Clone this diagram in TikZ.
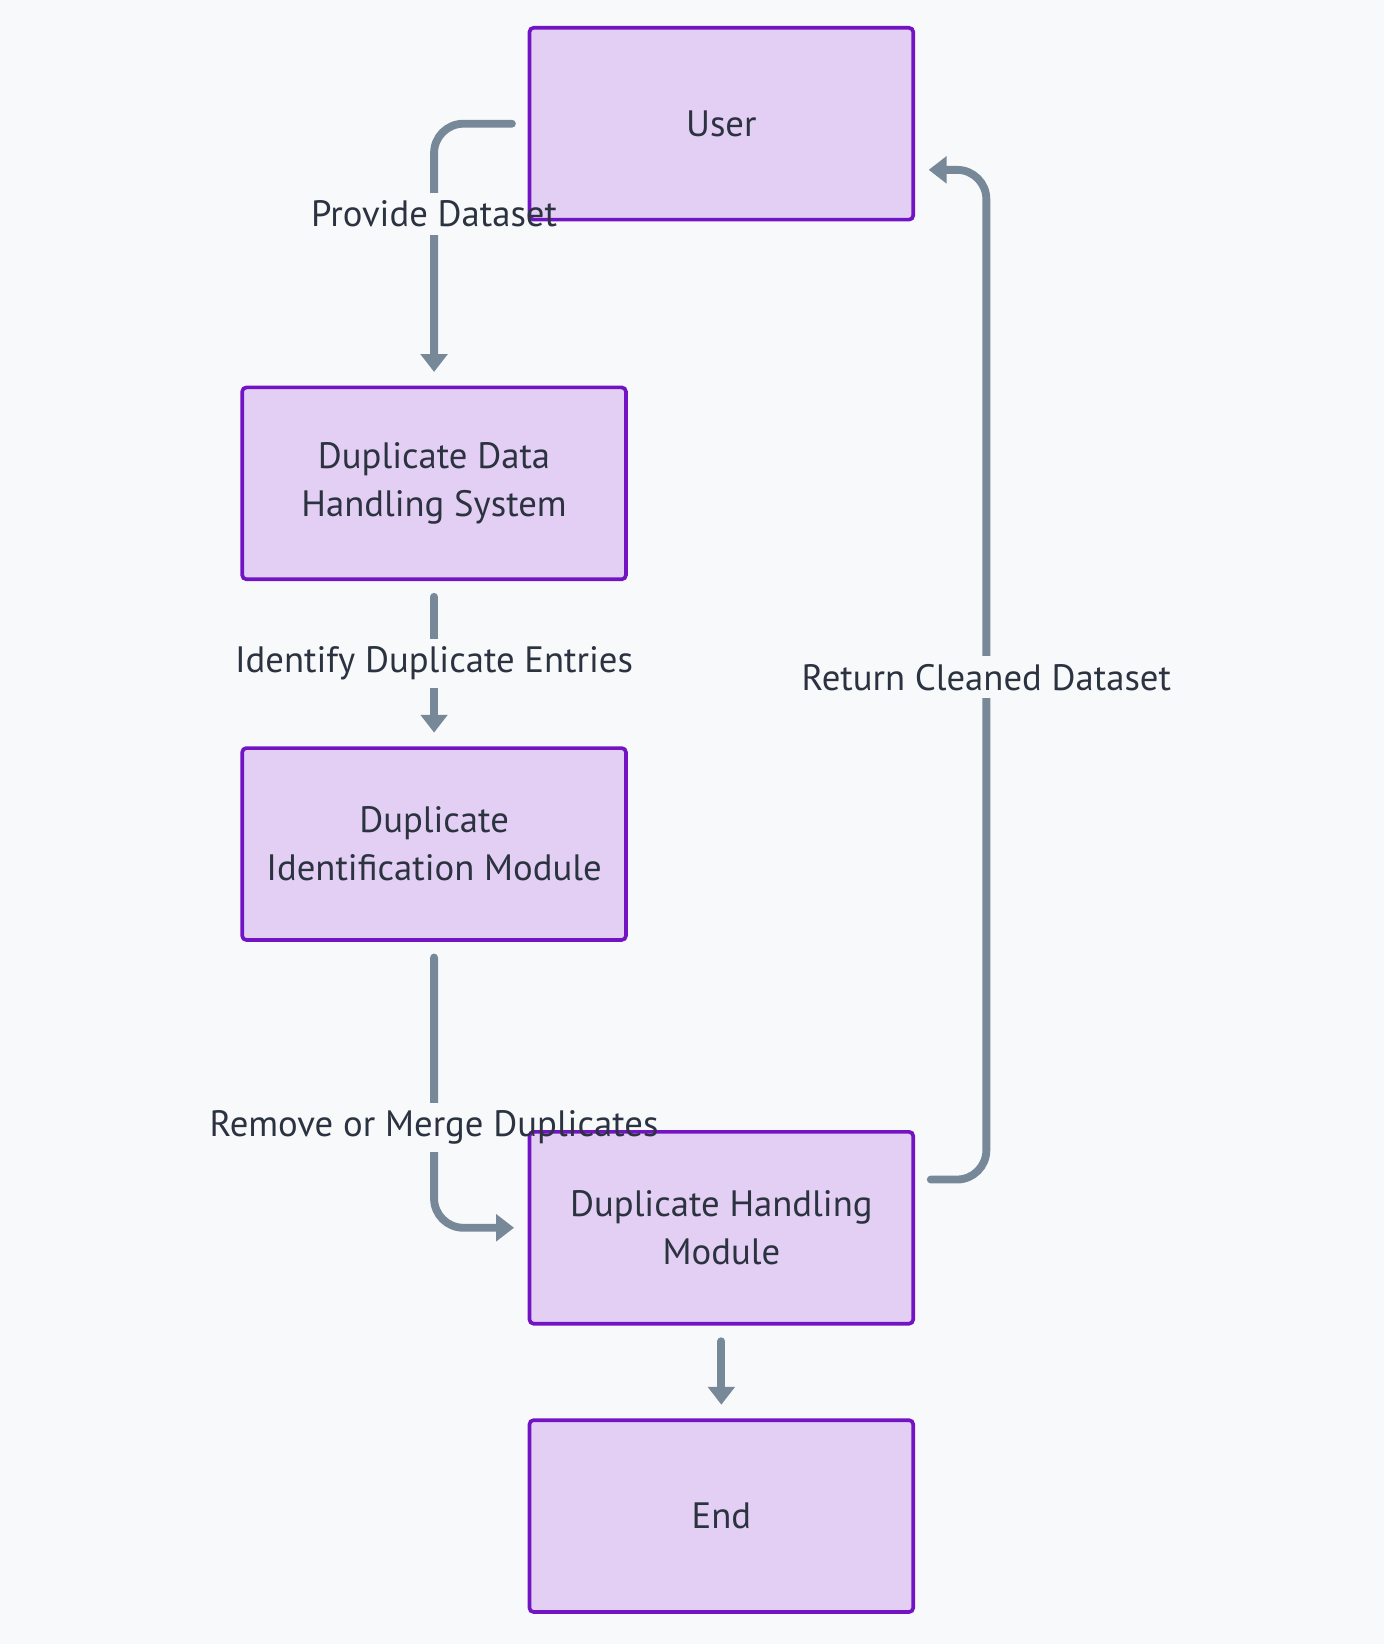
\documentclass[tikz,border=0pt]{standalone}
\usepackage{fontspec}
\setmainfont{PT Sans}
\usetikzlibrary{arrows.meta,calc}
\definecolor{bgc}{HTML}{F8F9FB}
\definecolor{boxfill}{HTML}{E3CFF3}
\definecolor{boxline}{HTML}{7314C4}
\definecolor{arrowc}{HTML}{778899}
\definecolor{txt}{HTML}{2B3240}
\pgfdeclarelayer{bg}
\pgfdeclarelayer{edges}
\pgfdeclarelayer{lblbg}
\pgfsetlayers{bg,edges,lblbg,main}
\tikzset{
  box/.style={draw=boxline, line width=3.5pt, fill=boxfill, rounded corners=4pt,
    minimum width=366pt, minimum height=183pt, inner sep=0pt, align=center,
    text=txt, font=\fontsize{35}{46}\selectfont},
  flow/.style={draw=arrowc, line width=7.5pt, line cap=round,
    -{Triangle[width=25pt,length=17pt]}},
  lbl/.style={text=txt, font=\fontsize{35}{46}\selectfont, inner sep=7pt}
}
\begin{document}
\begin{tikzpicture}[x=1pt,y=-1pt]
\begin{pgfonlayer}{bg}
\useasboundingbox[fill=bgc] (0,0) rectangle (1320,1568);
\end{pgfonlayer}
\node[box] (user) at (688,118) {User};
\node[box] (ddhs) at (414,461) {Duplicate Data\\Handling System};
\node[box] (dim) at (414,805) {Duplicate\\Identification Module};
\node[box] (dhm) at (688,1171) {Duplicate Handling\\Module};
\node[box] (end) at (688,1446) {End};

\begin{pgfonlayer}{edges}
\draw[flow, rounded corners=28pt, shorten <=15pt, shorten >=13pt]
  (user.west) -| (ddhs.north);
\draw[flow, shorten <=15pt, shorten >=13pt]
  (ddhs.south) -- (dim.north);
\draw[flow, rounded corners=28pt, shorten <=15pt, shorten >=13pt]
  (dim.south) |- (dhm.west);
\draw[flow, rounded corners=28pt]
  ([xshift=15pt,yshift=46pt]dhm.east) -- ++(53,0)
  |- ([xshift=13pt,yshift=-44pt]user.east);
\draw[flow, shorten <=15pt, shorten >=13pt] (dhm.south) -- (end.north);
\end{pgfonlayer}

\path (user.west) -| node[lbl, pos=0.672] (l1) {Provide Dataset} (ddhs.north);
\path (ddhs.south) -- node[lbl] (l2) {Identify Duplicate Entries} (dim.north);
\path (dim.south) |- node[lbl, pos=0.325] (l3) {Remove or Merge Duplicates} (dhm.west);
\path ([xshift=15pt,yshift=46pt]dhm.east) -- ++(53,0)
  |- node[lbl, pos=0.2487] (l4) {Return Cleaned Dataset} ([xshift=13pt,yshift=-44pt]user.east);

\begin{pgfonlayer}{lblbg}
\foreach \n in {l1,l2,l3,l4}
  \fill[bgc] (\n.south west) rectangle (\n.north east);
\end{pgfonlayer}
\end{tikzpicture}
\end{document}
